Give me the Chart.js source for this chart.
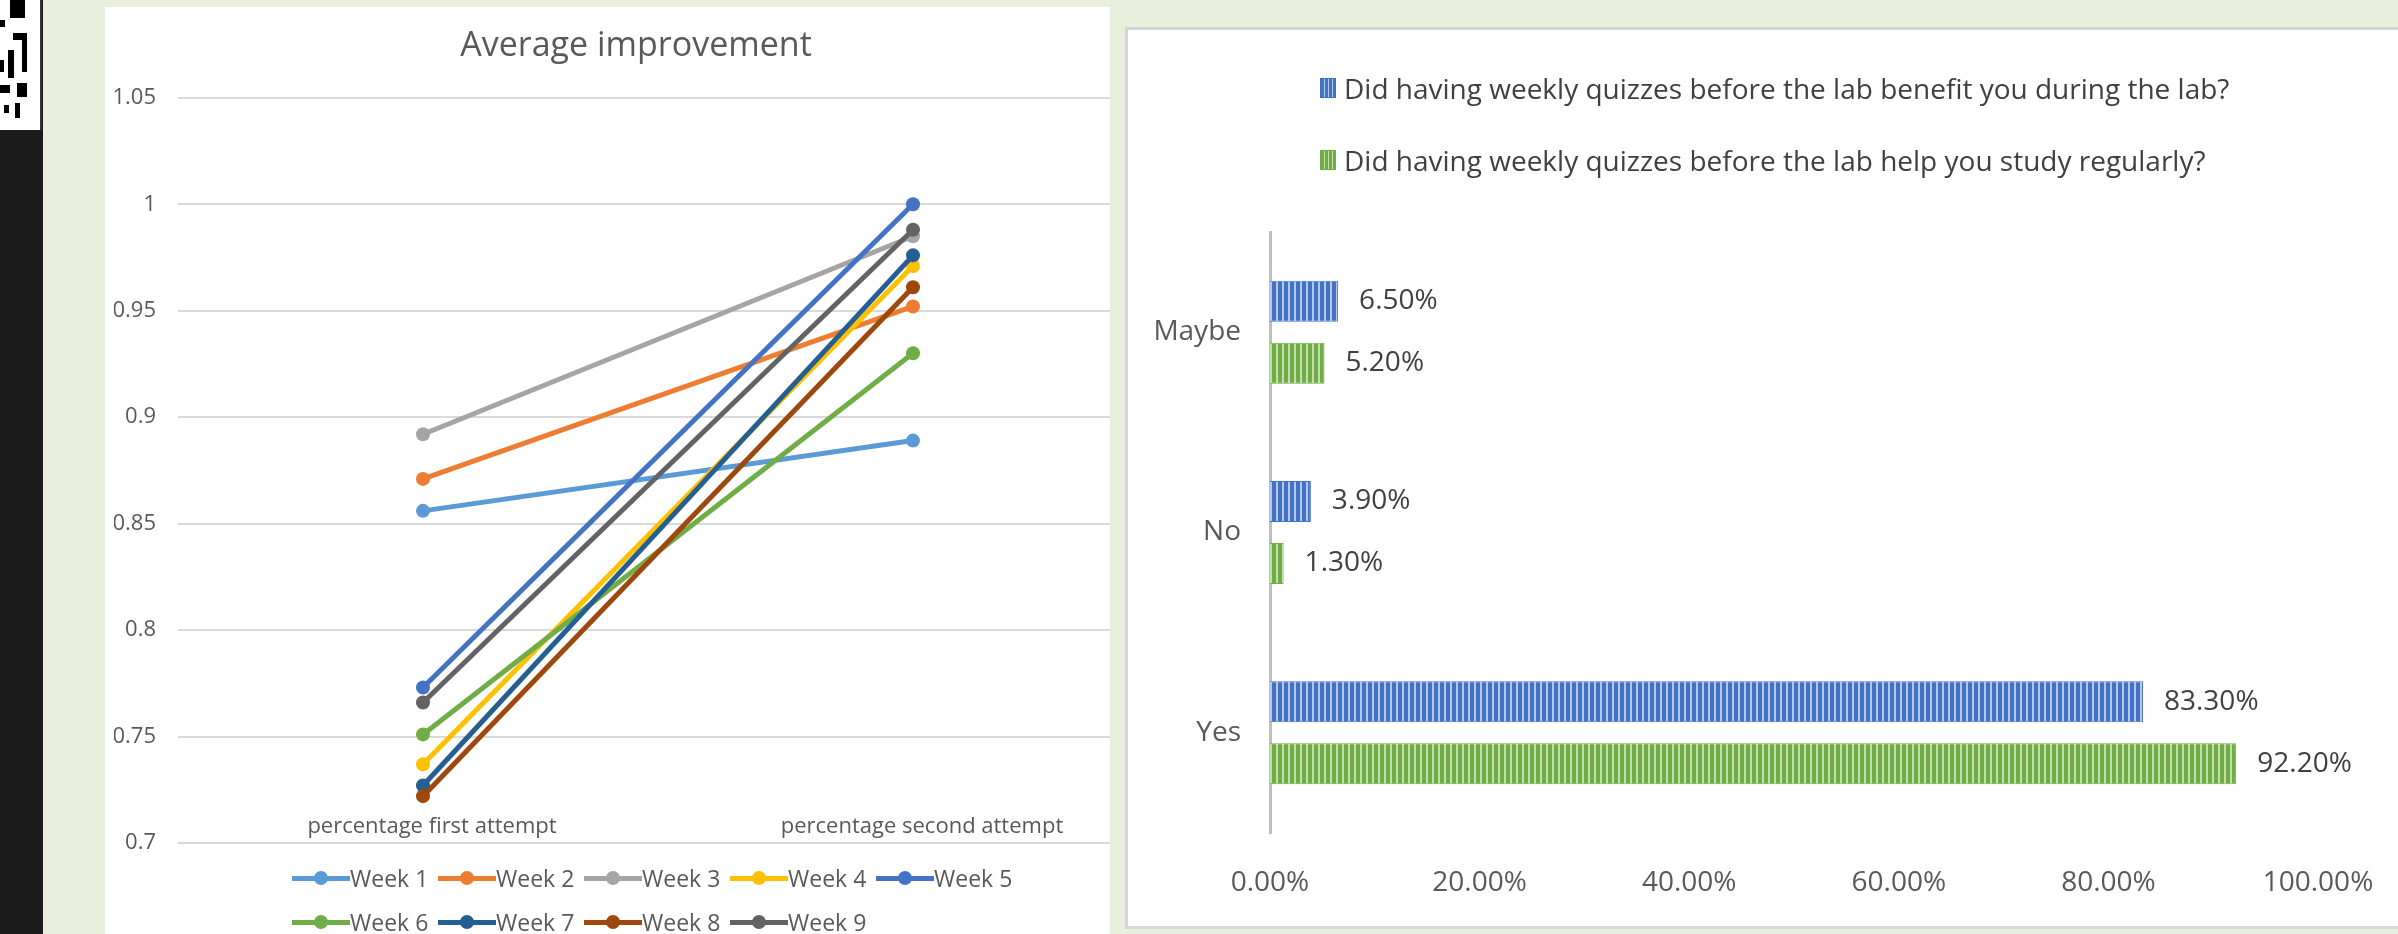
<!DOCTYPE html>
<html>
<head>
<meta charset="utf-8">
<script src="https://cdn.jsdelivr.net/npm/chart.js@4.4.1/dist/chart.umd.min.js"></script>
<style>
html,body{margin:0;padding:0}
body{width:2398px;height:934px;overflow:hidden;background:#e8efdc;position:relative;font-family:'Open Sans',sans-serif}
#strip{position:absolute;left:0;top:0;width:43px;height:934px;background:#1c1c1c}
#qr{position:absolute;left:0;top:0;width:40px;height:130px;background:#fff;border-right:2px solid #333}
#qr i{position:absolute;background:#000;display:block}
#leftPanel{position:absolute;left:105px;top:7px;width:1005px;height:927px;background:#fff;overflow:hidden}
#c1{position:absolute;left:0;top:0}
#legend1{position:absolute;left:187px;top:859px;display:grid;grid-template-columns:repeat(5,146px);row-gap:20px}
.li1{display:flex;align-items:center;height:24px;font-size:23px;line-height:24px;color:#595959;white-space:nowrap}
.mk{position:relative;width:58px;height:24px;flex:none}
.mk .ln{position:absolute;left:0;right:0;top:10px;height:4.5px}
.mk .dt{position:absolute;left:22px;top:5px;width:14px;height:14px;border-radius:50%}
#rightPanel{position:absolute;left:1125px;top:27px;width:1300px;height:896px;border:3px solid #d6d6d6;background:#fff;overflow:hidden}
#c2{position:absolute;left:0;top:0}
#legend2{position:absolute;left:192px;top:41px}
.li2{display:flex;align-items:center;height:34px;margin-bottom:38px;font-size:28px;line-height:34px;color:#404040;white-space:nowrap}
.bx{width:16px;height:20px;margin-right:8px;flex:none;box-sizing:border-box}
</style>
</head>
<body>
<div id="strip"></div>
<div id="qr">
  <i style="left:10px;top:0;width:15px;height:18px"></i>
  <i style="left:0;top:20px;width:5px;height:7px"></i>
  <i style="left:13px;top:33px;width:14px;height:7px"></i>
  <i style="left:22px;top:33px;width:5px;height:39px"></i>
  <i style="left:8px;top:50px;width:6px;height:28px"></i>
  <i style="left:0;top:60px;width:4px;height:12px"></i>
  <i style="left:0;top:85px;width:10px;height:8px"></i>
  <i style="left:17px;top:83px;width:10px;height:14px"></i>
  <i style="left:4px;top:105px;width:5px;height:8px"></i>
  <i style="left:15px;top:103px;width:5px;height:15px"></i>
</div>

<div id="leftPanel">
  <canvas id="c1" width="1062" height="876"></canvas>
  <div id="legend1"></div>
</div>

<div id="rightPanel">
  <canvas id="c2" width="1279" height="896"></canvas>
  <div id="legend2"></div>
</div>

<script>
// ---------- data: left chart ----------
const attempts = ['percentage first attempt', 'percentage second attempt'];
const weeks = ['Week 1', 'Week 2', 'Week 3', 'Week 4', 'Week 5', 'Week 6', 'Week 7', 'Week 8', 'Week 9'];
const firstAttempt  = [0.856, 0.871, 0.892, 0.737, 0.773, 0.751, 0.727, 0.722, 0.766];
const secondAttempt = [0.889, 0.952, 0.985, 0.971, 1.000, 0.930, 0.976, 0.961, 0.988];
const weekColors = ['#5B9BD5', '#ED7D31', '#A5A5A5', '#FFC000', '#4472C4', '#70AD47', '#255E91', '#9E480E', '#636363'];
const improvementTitle = 'Average improvement';

// ---------- data: right chart ----------
const answers = ['Maybe', 'No', 'Yes'];
const questions = [
  'Did having weekly quizzes before the lab benefit you during the lab?',
  'Did having weekly quizzes before the lab help you study regularly?'
];
const benefitPct = [6.5, 3.9, 83.3];
const studyPct = [5.2, 1.3, 92.2];
const barColors = ['#4472C4', '#70AD47'];
const barLight = ['#b4c8ee', '#c2e0ac'];

Chart.defaults.font.family = "'Open Sans', sans-serif";
Chart.defaults.color = '#595959';

// ---------- left chart ----------
const c1 = document.getElementById('c1');
const chart1 = new Chart(c1, {
  type: 'line',
  data: {
    labels: attempts,
    datasets: weeks.map((w, i) => ({
      label: w,
      data: [firstAttempt[i], secondAttempt[i]],
      borderColor: weekColors[i],
      backgroundColor: weekColors[i],
      pointBackgroundColor: weekColors[i],
      pointBorderColor: weekColors[i],
      borderWidth: 5,
      pointRadius: 7,
      pointBorderWidth: 0,
      tension: 0,
      order: weeks.length - 1 - i
    }))
  },
  options: {
    responsive: false,
    animation: false,
    events: [],
    layout: { padding: { left: 9, right: 9, top: 0, bottom: 0 } },
    plugins: {
      legend: { display: false },
      tooltip: { enabled: false },
      title: {
        display: true,
        text: improvementTitle,
        color: '#595959',
        font: { size: 34, weight: 'normal', lineHeight: 1.2 },
        padding: { top: 19, bottom: 31 }
      }
    },
    scales: {
      x: {
        offset: true,
        grid: { display: false, drawTicks: false },
        border: { display: false },
        ticks: {
          color: '#595959',
          font: { size: 22 },
          mirror: true,
          padding: 3,
          labelOffset: 9,
          maxRotation: 0,
          autoSkip: false,
          showLabelBackdrop: true,
          backdropColor: '#ffffff',
          backdropPadding: (ctx) => ctx.index === 0
            ? { top: 2, bottom: 6, left: 36, right: 200 }
            : { top: 2, bottom: 6, left: 36, right: 28 }
        },
        afterFit: (s) => { s.height = 40; }
      },
      y: {
        min: 0.7,
        max: 1.05,
        grid: { color: '#d9d9d9', lineWidth: 2, drawTicks: false },
        border: { display: false },
        ticks: {
          stepSize: 0.05,
          color: '#595959',
          font: { size: 22 },
          padding: 22,
          callback: (v) => String(+Number(v).toFixed(2))
        },
        afterFit: (s) => { s.width = 64; }
      }
    }
  }
});

// HTML legend for left chart (generated from the chart's datasets)
(function () {
  const box = document.getElementById('legend1');
  chart1.data.datasets.forEach((ds) => {
    const item = document.createElement('div');
    item.className = 'li1';
    const mk = document.createElement('span');
    mk.className = 'mk';
    const ln = document.createElement('span'); ln.className = 'ln'; ln.style.background = ds.borderColor;
    const dt = document.createElement('span'); dt.className = 'dt'; dt.style.background = ds.borderColor;
    mk.appendChild(ln); mk.appendChild(dt);
    const tx = document.createElement('span'); tx.textContent = ds.label;
    item.appendChild(mk); item.appendChild(tx);
    box.appendChild(item);
  });
})();

// ---------- right chart ----------
function stripePattern(dark, light) {
  const pc = document.createElement('canvas');
  pc.width = 6; pc.height = 6;
  const g = pc.getContext('2d');
  g.fillStyle = dark; g.fillRect(0, 0, 6, 6);
  g.fillStyle = light; g.fillRect(4, 0, 2, 6);
  return g.createPattern(pc, 'repeat');
}
const ctx2 = document.getElementById('c2').getContext('2d');

const valueLabels = {
  id: 'valueLabels',
  afterDatasetsDraw(chart) {
    const ctx = chart.ctx;
    ctx.save();
    ctx.font = "28px 'Open Sans', sans-serif";
    ctx.fillStyle = '#404040';
    ctx.textAlign = 'left';
    ctx.textBaseline = 'middle';
    chart.data.datasets.forEach((ds, i) => {
      chart.getDatasetMeta(i).data.forEach((bar, j) => {
        ctx.fillText(ds.data[j].toFixed(2) + '%', bar.x + 21, bar.y);
      });
    });
    ctx.restore();
  }
};

const chart2 = new Chart(ctx2, {
  type: 'bar',
  data: {
    labels: answers,
    datasets: [
      { label: questions[0], data: benefitPct, backgroundColor: stripePattern(barColors[0], barLight[0]),
        borderColor: barColors[0], borderWidth: 1, categoryPercentage: 0.619, barPercentage: 0.661, legendLight: barLight[0] },
      { label: questions[1], data: studyPct, backgroundColor: stripePattern(barColors[1], barLight[1]),
        borderColor: barColors[1], borderWidth: 1, categoryPercentage: 0.619, barPercentage: 0.661, legendLight: barLight[1] }
    ]
  },
  options: {
    indexAxis: 'y',
    responsive: false,
    animation: false,
    events: [],
    layout: { padding: { left: 0, right: 89, top: 202, bottom: 0 } },
    plugins: { legend: { display: false }, tooltip: { enabled: false } },
    scales: {
      x: {
        min: 0, max: 100,
        grid: { display: false, drawTicks: false },
        border: { display: false },
        ticks: { stepSize: 20, color: '#595959', font: { size: 28 }, padding: 33, maxRotation: 0,
                 callback: (v) => Number(v).toFixed(2) + '%' },
        afterFit: (s) => { s.height = 93; }
      },
      y: {
        grid: { display: false, drawTicks: false },
        border: { display: true, color: '#bfbfbf', width: 3 },
        ticks: { color: '#595959', font: { size: 28 }, padding: 29 },
        afterFit: (s) => { s.width = 142; }
      }
    }
  },
  plugins: [valueLabels]
});

// HTML legend for right chart
(function () {
  const box = document.getElementById('legend2');
  chart2.data.datasets.forEach((ds) => {
    const item = document.createElement('div');
    item.className = 'li2';
    const b = document.createElement('span');
    b.className = 'bx';
    b.style.background = 'repeating-linear-gradient(90deg,' + ds.borderColor + ' 0 3px,' + ds.legendLight + ' 3px 4px)';
    b.style.border = '1px solid ' + ds.borderColor;
    const tx = document.createElement('span'); tx.textContent = ds.label;
    item.appendChild(b); item.appendChild(tx);
    box.appendChild(item);
  });
})();
</script>
</body>
</html>
